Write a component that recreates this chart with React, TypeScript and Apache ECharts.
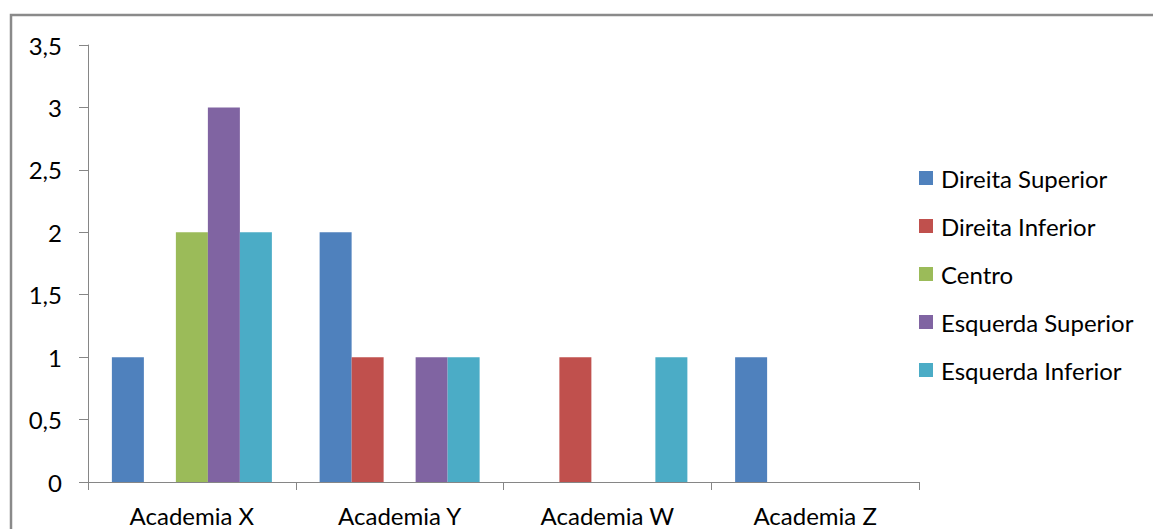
import React, { useEffect, useRef } from "react";
import * as echarts from "echarts";

const categories = ["Academia X", "Academia Y", "Academia W", "Academia Z"];
const seriesNames = ["Direita Superior", "Direita Inferior", "Centro", "Esquerda Superior", "Esquerda Inferior"];
const direitaSuperior = [1, 2, 0, 1];
const direitaInferior = [0, 1, 1, 0];
const centro = [2, 0, 0, 0];
const esquerdaSuperior = [3, 1, 0, 0];
const esquerdaInferior = [2, 1, 1, 0];
const colors = ["#4F81BD", "#C0504D", "#9BBB59", "#8064A2", "#4BACC6"];

const FONT = "Lato";
const FS = 24;

export default function App() {
  const ref = useRef<HTMLDivElement>(null);
  useEffect(() => {
    if (!ref.current) return;
    const chart = echarts.init(ref.current, null, { renderer: "svg" });
    const values = [direitaSuperior, direitaInferior, centro, esquerdaSuperior, esquerdaInferior];
    chart.setOption({
      animation: false,
      backgroundColor: "#ffffff",
      textStyle: { fontFamily: FONT },
      graphic: [
        {
          type: "rect",
          shape: { x: 11, y: 15, width: 1300, height: 700 },
          style: { fill: "none", stroke: "#8a8a8a", lineWidth: 2.5 },
          silent: true,
        },
      ],
      grid: { left: 88, right: 234, top: 45, bottom: 47, containLabel: false },
      legend: {
        orient: "vertical",
        left: 914,
        top: 161,
        itemWidth: 14,
        itemHeight: 14,
        itemGap: 24,
        icon: "rect",
        data: seriesNames,
        textStyle: { fontFamily: FONT, fontSize: FS, lineHeight: 24, color: "#000", padding: [0, 0, 0, 3] },
      },
      xAxis: {
        type: "category",
        data: categories,
        axisLine: { lineStyle: { color: "#868686", width: 1 } },
        axisTick: { show: true, length: 8, lineStyle: { color: "#868686" } },
        axisLabel: { fontFamily: FONT, fontSize: FS, color: "#000", margin: 21 },
      },
      yAxis: {
        type: "value",
        min: 0,
        max: 3.5,
        interval: 0.5,
        splitLine: { show: false },
        axisLine: { show: true, lineStyle: { color: "#868686", width: 1 } },
        axisTick: { show: true, length: 9, lineStyle: { color: "#868686" } },
        axisLabel: {
          fontFamily: FONT,
          fontSize: FS,
          color: "#000",
          margin: 26,
          formatter: (v: number) => String(v).replace(".", ","),
        },
      },
      series: seriesNames.map((name, i) => ({
        name,
        type: "bar",
        data: values[i],
        barWidth: 32,
        barGap: "0%",
        itemStyle: { color: colors[i] },
      })),
    });
    return () => chart.dispose();
  }, []);
  return <div ref={ref} style={{ position: "fixed", left: 0, top: 0, width: 1153, height: 529 }} />;
}
